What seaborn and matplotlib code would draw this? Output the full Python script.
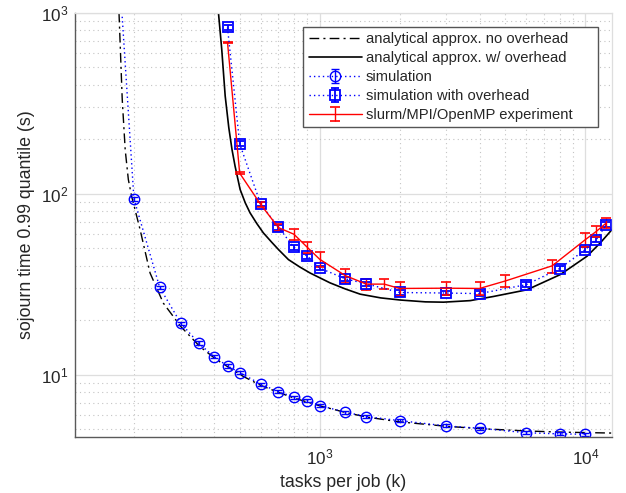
import numpy as np
import pandas as pd
import matplotlib
matplotlib.use("Agg")
import matplotlib.pyplot as plt
import seaborn as sns
from matplotlib.ticker import LogLocator, NullFormatter

# ---- data ----
x_no_ovh = [175.7, 180.7, 185.4, 190.5, 196, 210.9, 230, 258, 300, 354.7, 410, 516,
            600, 700, 800, 1000, 1250, 1500, 2000, 3000, 4000, 6000, 8000, 10000, 12600]
y_no_ovh = [1000, 332, 175, 120, 97, 63.5, 36.5, 24.9, 18.5, 14.3, 12.1, 9.8,
            8.75, 8.0, 7.45, 6.75, 6.2, 5.85, 5.5, 5.2, 5.05, 4.9, 4.83, 4.8, 4.77]

x_w_ovh = [416, 428, 441, 455, 468, 480.5, 502, 525, 547, 580, 614, 660, 700, 763, 840,
           921, 1095, 1250, 1421, 1700, 2009, 2500, 2927, 3689, 4514, 6031, 8053,
           10148, 11390, 12607]
y_w_ovh = [1000, 629, 347, 232, 175, 142, 105.6, 89, 78.5, 68.5, 60.8, 54, 49.2, 43.3,
           39.5, 36.5, 32.2, 29.8, 27.9, 26.6, 25.9, 25.3, 25.2, 25.7, 27.1, 29.5, 35.8,
           45.2, 53.6, 63.5]

x_sim = [175, 200, 250, 300, 350, 400, 450, 500, 600, 700, 800, 900, 1000, 1250, 1500,
         2000, 3000, 4000, 6000, 8000, 10000]
y_sim = [1950, 93.8, 30.4, 19.3, 15.0, 12.6, 11.2, 10.3, 8.88, 8.08, 7.53, 7.21, 6.77,
         6.22, 5.88, 5.59, 5.22, 5.07, 4.79, 4.72, 4.70]
e_sim = [40, 2.0, 0.6, 0.4, 0.3, 0.25, 0.22, 0.2, 0.17, 0.15, 0.14, 0.14, 0.13,
         0.12, 0.11, 0.11, 0.1, 0.1, 0.09, 0.09, 0.09]

x_sim_ovh = [450, 500, 600, 700, 800, 900, 1000, 1250, 1500, 2000, 3000, 4000, 6000,
             8000, 10000, 11000, 12000]
y_sim_ovh = [829, 189, 87.6, 65.3, 50.6, 45.2, 38.9, 33.9, 31.8, 28.5, 28.3, 28.1, 31.5,
             38.6, 49.2, 55.9, 67.6]
e_sim_ovh = [25, 6, 2.5, 1.9, 1.5, 1.3, 1.1, 1.0, 0.9, 0.8, 0.8, 0.8, 0.9,
             1.1, 1.4, 1.6, 1.9]

x_exp = [450, 500, 600, 700, 800, 900, 1000, 1250, 1500, 1750, 2000, 3000, 4000, 5000,
         7500, 10000, 11000, 12000]
y_exp = [685, 130, 87.2, 65, 59.8, 50.5, 43.5, 35.3, 31.7, 31.7, 30.0, 30.1, 30.0, 33.0,
         40.0, 55.8, 62, 69]
e_exp = [4, 1.5, 2.5, 3, 4.5, 3.5, 4.2, 3.2, 2.3, 2.0, 2.7, 2.5, 2.5, 2.4,
         3.3, 4.8, 4.5, 4.3]

labels = ["analytical approx. no overhead", "analytical approx. w/ overhead",
          "simulation", "simulation with overhead", "slurm/MPI/OpenMP experiment"]

# ---- style ----
sns.set_theme(style="white")
plt.rcParams["font.family"] = ["Liberation Sans", "DejaVu Sans"]
plt.rcParams["mathtext.fontset"] = "custom"
plt.rcParams["mathtext.rm"] = "Liberation Sans"
plt.rcParams["mathtext.it"] = "Liberation Sans:italic"
plt.rcParams["mathtext.bf"] = "Liberation Sans:bold"

fig = plt.figure(figsize=(6.26, 4.93), dpi=100)
ax = fig.add_axes([75 / 626, 1 - 437.3 / 493, (612 - 75) / 626, (437.3 - 12.7) / 493])

df_no = pd.DataFrame({"k": x_no_ovh, "t": y_no_ovh})
df_w = pd.DataFrame({"k": x_w_ovh, "t": y_w_ovh})

sns.lineplot(data=df_no, x="k", y="t", ax=ax, color="black", lw=1.0,
             linestyle=(0, (7, 3, 1.5, 3)), label=labels[0], sort=False)
sns.lineplot(data=df_w, x="k", y="t", ax=ax, color="black", lw=1.2,
             linestyle="-", label=labels[1], sort=False)

ax.errorbar(x_sim, y_sim, yerr=e_sim, color="blue", ls=(0, (1, 2.2)), lw=1.0,
            marker="o", mfc="none", mec="blue", ms=7.5, mew=1.0,
            capsize=3, elinewidth=1.0, capthick=1.0, label=labels[2])
ax.errorbar(x_sim_ovh, y_sim_ovh, yerr=e_sim_ovh, color="blue", ls=(0, (1, 2.2)), lw=1.0,
            marker="s", mfc="none", mec="blue", ms=6.5, mew=1.3,
            capsize=3, elinewidth=1.3, capthick=1.3, label=labels[3])
ax.errorbar(x_exp, y_exp, yerr=e_exp, color="red", ls="-", lw=1.0,
            capsize=3.6, elinewidth=1.0, capthick=1.2, label=labels[4])

ax.set_xscale("log")
ax.set_yscale("log")
ax.set_xlim(120, 12600)
ax.set_ylim(4.52, 1000)

ax.xaxis.set_major_locator(LogLocator(base=10, numticks=10))
ax.yaxis.set_major_locator(LogLocator(base=10, numticks=10))
ax.xaxis.set_minor_locator(LogLocator(base=10, subs=np.arange(2, 10), numticks=20))
ax.yaxis.set_minor_locator(LogLocator(base=10, subs=np.arange(2, 10), numticks=20))
ax.xaxis.set_minor_formatter(NullFormatter())
ax.yaxis.set_minor_formatter(NullFormatter())

ax.grid(True, which="major", color="#dedede", lw=0.9, ls="-")
ax.grid(True, which="minor", color="#c4c4c4", lw=0.8, ls=(0, (1, 3)))
ax.set_axisbelow(True)

for s in ["left", "bottom"]:
    ax.spines[s].set_color("#5a5a5a")
    ax.spines[s].set_linewidth(1.0)
for s in ["top", "right"]:
    ax.spines[s].set_color("#dedede")
    ax.spines[s].set_linewidth(0.9)

ax.tick_params(axis="both", which="both", direction="in", colors="#262626",
               labelsize=12.3, top=False, right=False)
ax.tick_params(which="major", length=5, width=0.8)
ax.tick_params(which="minor", length=3, width=0.6)
ax.tick_params(axis="x", pad=7)
ax.tick_params(axis="y", pad=5)

ax.set_xlabel("tasks per job (k)", fontsize=12.8, color="#262626", labelpad=5)
ax.set_ylabel("sojourn time 0.99 quantile (s)", fontsize=12.8, color="#262626", labelpad=4)

h, l = ax.get_legend_handles_labels()
hd = dict(zip(l, h))
leg = ax.legend([hd[x] for x in labels], labels, loc="upper left",
                bbox_to_anchor=(0.4251, 0.5, 0.5482, 0.467), mode="expand",
                borderaxespad=0, fontsize=10.6,
                frameon=True, fancybox=False, edgecolor="#555555", framealpha=1,
                handlelength=3.6, handletextpad=0.3, labelspacing=0.34,
                borderpad=0.36)
leg.get_frame().set_linewidth(1.0)

fig.savefig("out.png", dpi=100)
